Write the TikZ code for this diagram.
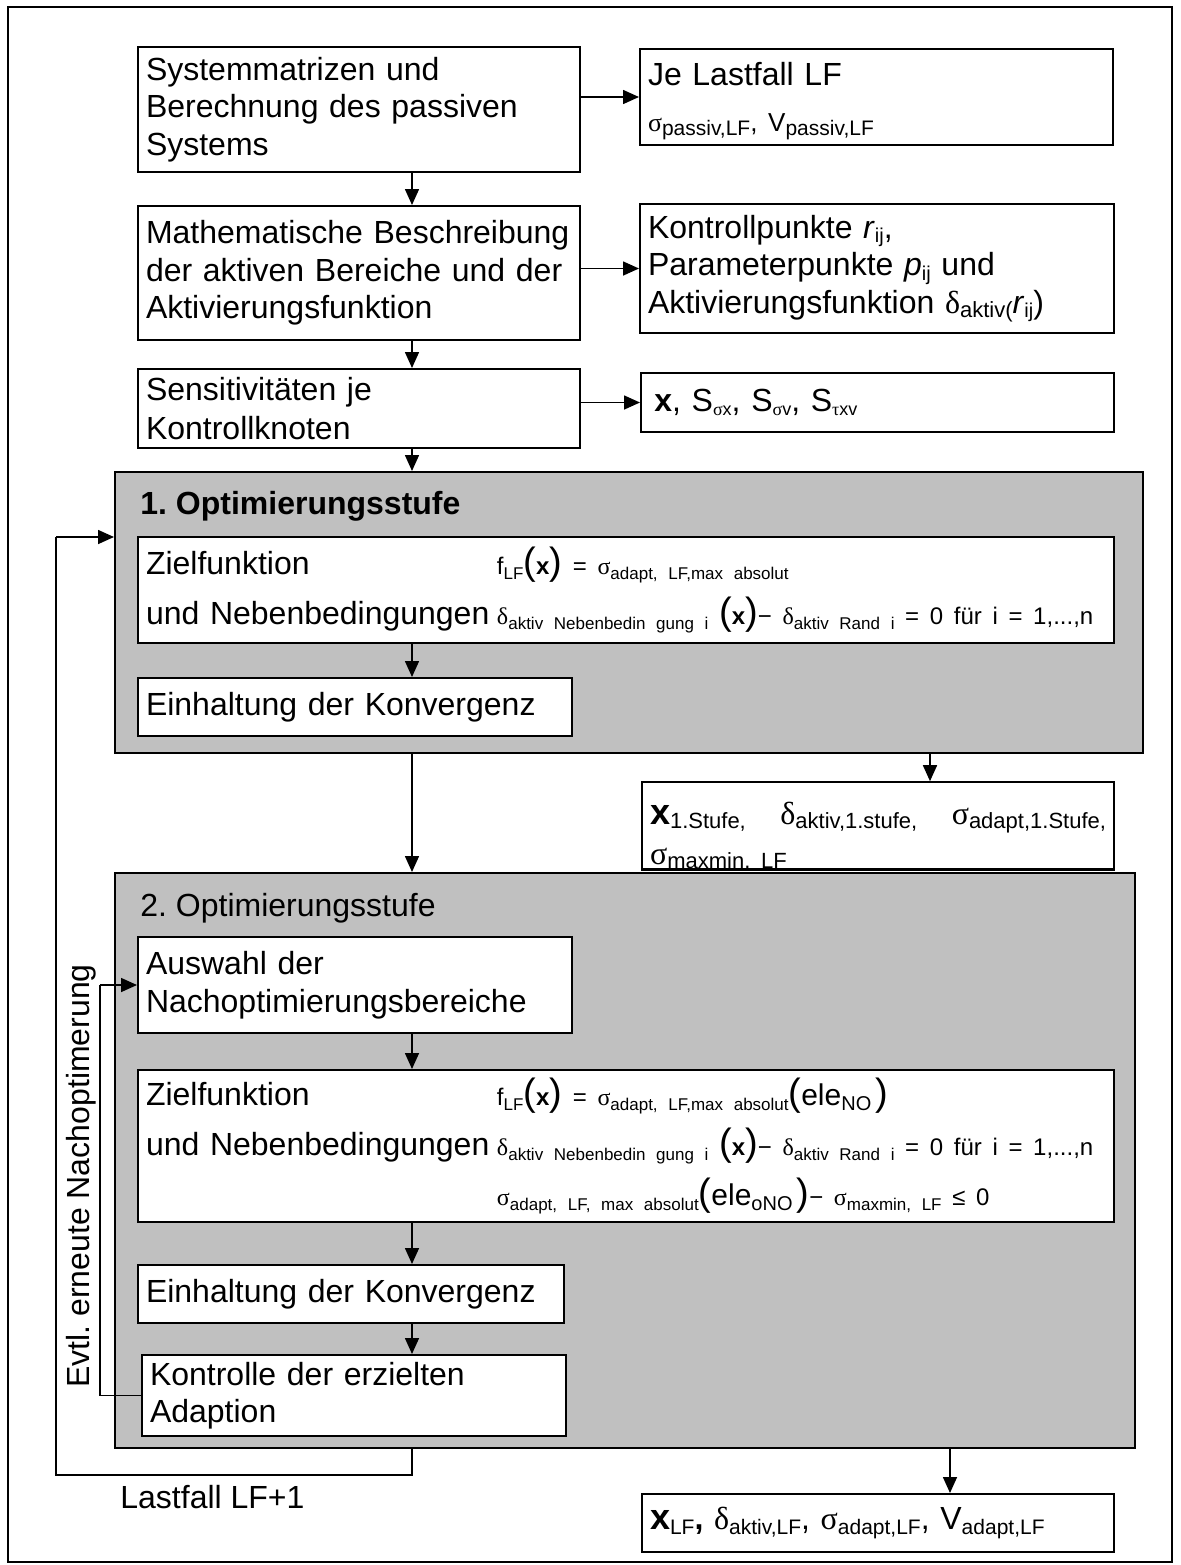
\documentclass[tikz,border=0pt]{standalone}
\usepackage{fontspec}
\setmainfont{Liberation Sans}
\newfontfamily\grk{Liberation Serif}
\usetikzlibrary{arrows.meta}
\definecolor{greyfill}{RGB}{192,192,192}
\frenchspacing
\newcommand\sbx[2][10]{\raisebox{-2.2pt}{\fontsize{#1}{#1}\selectfont #2}}
\newcommand\gsig{{\grk σ}}
\newcommand\gdel{{\grk δ}}
\newcommand\gtau{{\grk τ}}
\newcommand\bigp[1]{{\fontsize{19}{19}\selectfont #1}}
\newcommand\formfont{\fontsize{12}{25}\selectfont}
\begin{document}
\begin{tikzpicture}[x=0.5pt,y=-0.5pt,
  box/.style={draw, fill=white, line width=1pt, inner xsep=4pt, inner ysep=0pt,
    align=left, font=\fontsize{16}{18.75}\selectfont},
  greybox/.style={draw, fill=greyfill, line width=1pt, inner sep=0pt},
  arr/.style={line width=0.8pt, -{Triangle[length=8pt,width=7pt]}},
  fbline/.style={line width=0.8pt},
  lbl/.style={inner sep=0pt, font=\fontsize{16}{18.75}\selectfont}]
\useasboundingbox (0,0) rectangle (1181,1565);
\fill[white] (0,0) rectangle (1181,1565);
\draw[line width=1pt] (8,7) rectangle (1172,1562);

% top column
\node[box, minimum width=221pt, minimum height=62.5pt, text width=213pt] (A) at (359,109.5)
  {Systemmatrizen und\\Berechnung des passiven\\Systems};
\node[box, minimum width=236.5pt, minimum height=48pt, text width=228.5pt] (A2) at (876.5,97)
  {\rule{0pt}{16pt}Je Lastfall LF\\[4pt]{\fontsize{13}{13}\selectfont\gsig\sbx[10.5]{passiv,LF}, V\sbx[10.5]{passiv,LF}}};
\node[box, minimum width=221pt, minimum height=67pt, text width=213pt] (B) at (359,273)
  {Mathematische Beschreibung\\der aktiven Bereiche und der\\Aktivierungsfunktion};
\node[box, minimum width=237pt, minimum height=64.5pt, text width=229pt] (B2) at (877,268.5)
  {Kontrollpunkte \textit{r}\sbx{ij},\\Parameterpunkte \textit{p}\sbx{ij} und\\Aktivierungsfunktion \gdel\sbx[11]{aktiv(}\textit{r}\sbx{ij})};
\node[box, minimum width=221pt, minimum height=39.5pt, text width=213pt] (C) at (359,408.5)
  {Sensitivitäten je\\[1pt]Kontrollknoten};
\node[box, minimum width=236.5pt, minimum height=29.5pt, text width=228.5pt] (C2) at (877.5,402.5)
  {\,\textbf{x}, S\sbx[9]{\gsig x}, S\sbx[9]{\gsig v}, S\sbx[9]{\gtau xv}};

% 1. Optimierungsstufe
\node[greybox, minimum width=514pt, minimum height=140.5pt] (G1) at (629,612.5) {};
\node[lbl, anchor=base west, font=\fontsize{16}{18.75}\selectfont\bfseries] (t1) at (140,514) {1. Optimierungsstufe};
\node[box, minimum width=488pt, minimum height=53pt, text width=480pt,
  font=\fontsize{16}{25}\selectfont] (Z1) at (626,590)
  {\makebox[175.5pt][l]{Zielfunktion}\mbox{\formfont f\sbx[8.5]{LF}\bigp{(}\textbf{x}\bigp{)} = \gsig\sbx[8.5]{adapt, LF,max absolut}}\\
   \makebox[175.5pt][l]{und Nebenbedingungen}\mbox{\formfont\gdel\sbx[8.5]{aktiv Nebenbedin gung i} \bigp{(}\textbf{x}\bigp{)}− \gdel\sbx[8.5]{aktiv Rand i} = 0 für i = 1,...,n}};
\node[box, minimum width=217pt, minimum height=29pt, text width=209pt] (E1) at (355,707)
  {Einhaltung der Konvergenz};

\node[box, minimum width=236pt, minimum height=42.5pt, text width=228pt,
  font=\fontsize{16}{20}\selectfont] (O1) at (878,825.5)
  {\rule{0pt}{21pt}{\fontsize{18}{18}\selectfont\textbf{x}}\sbx[11]{1.Stufe,}\hfill\gdel\sbx[11]{aktiv,1.stufe,}\hfill\gsig\sbx[11]{adapt,1.Stufe,}\\
   \gsig\sbx[11]{maxmin. LF}};
\draw[line width=1pt] (O1.south west) -- (O1.south east);

% 2. Optimierungsstufe
\node[greybox, minimum width=510pt, minimum height=287.5pt] (G2) at (625,1160.5) {};
\node[lbl, anchor=base west] (t2) at (140,916) {2. Optimierungsstufe};
\node[box, minimum width=217pt, minimum height=48pt, text width=209pt] (Aus) at (355,985)
  {Auswahl der\\Nachoptimierungsbereiche};
\node[box, minimum width=488pt, minimum height=76pt, text width=480pt,
  font=\fontsize{16}{25}\selectfont] (Z2) at (626,1146)
  {\makebox[175.5pt][l]{Zielfunktion}\mbox{\formfont f\sbx[8.5]{LF}\bigp{(}\textbf{x}\bigp{)} = \gsig\sbx[8.5]{adapt, LF,max absolut}\bigp{(}{\fontsize{15}{15}\selectfont ele}\sbx[10]{NO}\,\bigp{)}}\\
   \makebox[175.5pt][l]{und Nebenbedingungen}\mbox{\formfont\gdel\sbx[8.5]{aktiv Nebenbedin gung i} \bigp{(}\textbf{x}\bigp{)}− \gdel\sbx[8.5]{aktiv Rand i} = 0 für i = 1,...,n}\\
   \makebox[175.5pt][l]{}\mbox{\formfont\gsig\sbx[8.5]{adapt, LF, max absolut}\bigp{(}{\fontsize{15}{15}\selectfont ele}\sbx[10]{oNO}\,\bigp{)}− \gsig\sbx[8.5]{maxmin, LF} ≤ 0}};
\node[box, minimum width=213pt, minimum height=29pt, text width=205pt] (E2) at (351,1294)
  {Einhaltung der Konvergenz};
\node[box, minimum width=212pt, minimum height=40.5pt, text width=204pt] (K) at (354,1395.5)
  {Kontrolle der erzielten\\Adaption};

\node[box, minimum width=236pt, minimum height=29pt, text width=228pt] (O2) at (878,1523)
  {{\fontsize{18}{18}\selectfont\textbf{x}}\sbx[10.5]{LF}\textbf{,} \gdel\sbx[10.5]{aktiv,LF}, \gsig\sbx[10.5]{adapt,LF}, V\sbx[10.5]{adapt,LF}};

\node[lbl, rotate=90, anchor=base west] (evtl) at (90,1388) {Evtl. erneute Nachoptimerung};
\node[lbl, anchor=base west] (lf) at (120,1508) {Lastfall LF+1};

% connectors
\coordinate (mx) at (412,0);
\coordinate (o1x) at (930,0);
\coordinate (o2x) at (950,0);
\draw[arr] (A.east |- A2.west) -- (A2.west);
\draw[arr] (B.east |- B2.west) -- (B2.west);
\draw[arr] (C.east |- C2.west) -- (C2.west);
\draw[arr] (A.south -| mx) -- (B.north -| mx);
\draw[arr] (B.south -| mx) -- (C.north -| mx);
\draw[arr] (C.south -| mx) -- (G1.north -| mx);
\draw[arr] (Z1.south -| mx) -- (E1.north -| mx);
\draw[arr] (G1.south -| mx) -- (G2.north -| mx);
\draw[arr] (G1.south -| o1x) -- (O1.north -| o1x);
\draw[arr] (Aus.south -| mx) -- (Z2.north -| mx);
\draw[arr] (Z2.south -| mx) -- (E2.north -| mx);
\draw[arr] (E2.south -| mx) -- (K.north -| mx);
\draw[arr] (G2.south -| o2x) -- (O2.north -| o2x);

\coordinate (fbb) at (56,1475);
\coordinate (fbt) at (56,537);
\draw[fbline] (G2.south -| mx) -- (mx |- fbb) -- (fbb) -- (fbt);
\draw[arr] (fbt) -- (G1.west |- fbt);

\coordinate (ib) at (100,0);
\draw[fbline] (K.west) -- (K.west -| ib) -- (Aus.west -| ib);
\draw[arr] (Aus.west -| ib) -- (Aus.west);
\end{tikzpicture}
\end{document}
